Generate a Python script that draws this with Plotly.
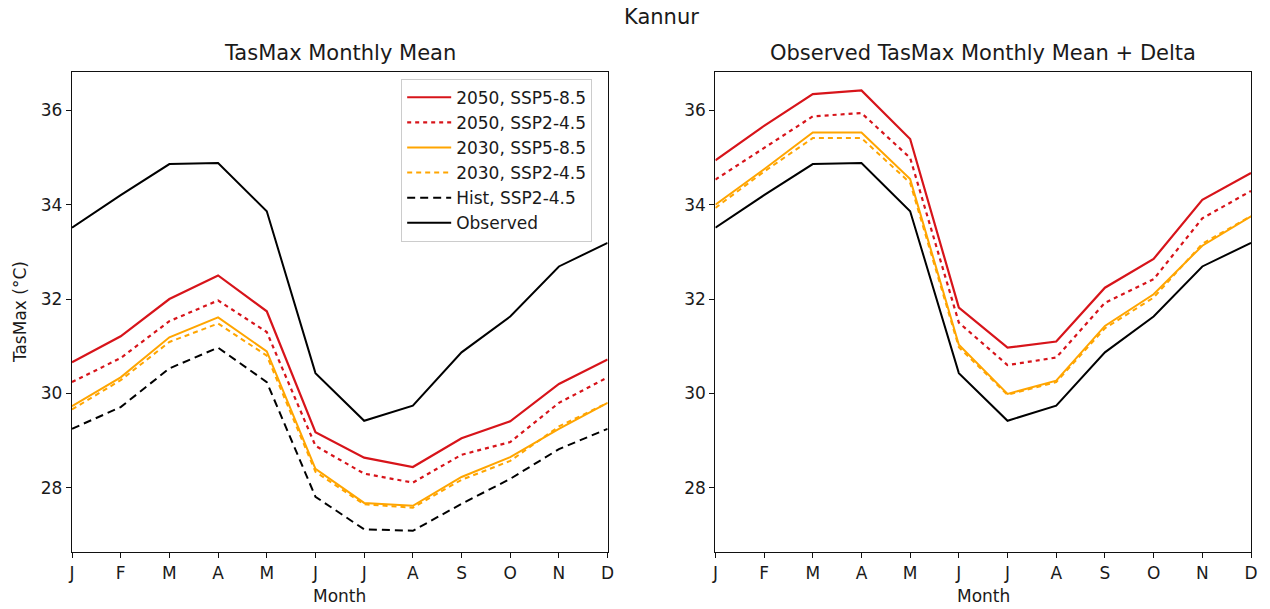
import plotly.graph_objects as go
from plotly.subplots import make_subplots

# Month index and labels
month_idx = list(range(12))
month_labels = ["J", "F", "M", "A", "M", "J", "J", "A", "S", "O", "N", "D"]

# Model monthly mean TasMax (°C)
ssp585_2050 = [30.66, 31.21, 32.00, 32.50, 31.74, 29.18, 28.64, 28.44, 29.05, 29.41, 30.20, 30.72]
ssp245_2050 = [30.24, 30.75, 31.53, 31.97, 31.30, 28.89, 28.30, 28.11, 28.70, 28.97, 29.80, 30.34]
ssp585_2030 = [29.73, 30.34, 31.19, 31.61, 30.89, 28.40, 27.68, 27.62, 28.23, 28.65, 29.25, 29.80]
ssp245_2030 = [29.66, 30.28, 31.09, 31.48, 30.80, 28.34, 27.65, 27.58, 28.17, 28.57, 29.30, 29.80]
hist_245 = [29.25, 29.71, 30.53, 30.97, 30.24, 27.81, 27.12, 27.09, 27.66, 28.19, 28.82, 29.25]
observed = [33.51, 34.20, 34.86, 34.88, 33.86, 30.43, 29.42, 29.74, 30.87, 31.63, 32.69, 33.19]

# Observed + delta TasMax (°C)
obs_d_585_2050 = [34.94, 35.67, 36.34, 36.42, 35.39, 31.82, 30.97, 31.10, 32.24, 32.85, 34.10, 34.67]
obs_d_245_2050 = [34.53, 35.20, 35.87, 35.94, 34.99, 31.50, 30.60, 30.76, 31.92, 32.42, 33.71, 34.29]
obs_d_585_2030 = [34.00, 34.75, 35.53, 35.53, 34.54, 31.03, 29.99, 30.27, 31.43, 32.10, 33.13, 33.75]
obs_d_245_2030 = [33.93, 34.70, 35.41, 35.41, 34.46, 30.98, 29.97, 30.24, 31.38, 32.03, 33.17, 33.76]

series_names = ["2050, SSP5-8.5", "2050, SSP2-4.5", "2030, SSP5-8.5",
                "2030, SSP2-4.5", "Hist, SSP2-4.5", "Observed"]

RED = "#d7141a"
ORANGE = "#ffa500"
BLACK = "#000000"
styles = [
    dict(color=RED, width=2.2, dash="solid"),
    dict(color=RED, width=2.2, dash="4px,4px"),
    dict(color=ORANGE, width=2.0, dash="solid"),
    dict(color=ORANGE, width=2.0, dash="5px,4px"),
    dict(color=BLACK, width=2.0, dash="8px,5px"),
    dict(color=BLACK, width=2.0, dash="solid"),
]

left_series = [ssp585_2050, ssp245_2050, ssp585_2030, ssp245_2030, hist_245, observed]
right_series = [obs_d_585_2050, obs_d_245_2050, obs_d_585_2030, obs_d_245_2030, observed]
right_styles = [styles[0], styles[1], styles[2], styles[3], styles[5]]

FONT = "DejaVu Sans"
TXT = "#1a1a1a"

fig = make_subplots(rows=1, cols=2, horizontal_spacing=0.0914)

for name, ys, st in zip(series_names, left_series, styles):
    fig.add_trace(go.Scatter(x=month_idx, y=ys, mode="lines", name=name,
                             line=st, showlegend=True), row=1, col=1)

for ys, st in zip(right_series, right_styles):
    fig.add_trace(go.Scatter(x=month_idx, y=ys, mode="lines",
                             line=st, showlegend=False), row=1, col=2)

y_range = [26.64, 36.81]
axis_common = dict(showline=True, linecolor="#111", linewidth=1.3, mirror=True,
                   showgrid=False, zeroline=False, ticks="outside", ticklen=5,
                   tickwidth=1.2, tickcolor="#111",
                   tickfont=dict(family=FONT, size=17, color=TXT))

for c in (1, 2):
    fig.update_xaxes(range=[0, 11], tickvals=month_idx, ticktext=month_labels,
                     **axis_common, row=1, col=c)
    fig.update_yaxes(range=y_range, tickvals=[28, 30, 32, 34, 36],
                     **axis_common, row=1, col=c)

fig.update_xaxes(domain=[0, 0.4543], row=1, col=1)
fig.update_xaxes(domain=[0.5457, 1.0], row=1, col=2)

annotations = [
    dict(text="Kannur", x=0.5, y=1.114, xref="paper", yref="paper",
         xanchor="center", yanchor="middle", showarrow=False,
         font=dict(family=FONT, size=21, color=TXT)),
    dict(text="TasMax Monthly Mean", x=0.4543 / 2, y=1.04, xref="paper", yref="paper",
         xanchor="center", yanchor="middle", showarrow=False,
         font=dict(family=FONT, size=21, color=TXT)),
    dict(text="Observed TasMax Monthly Mean + Delta", x=(0.5457 + 1) / 2, y=1.04,
         xref="paper", yref="paper", xanchor="center", yanchor="middle",
         showarrow=False, font=dict(family=FONT, size=21, color=TXT)),
    dict(text="Month", x=0.4543 / 2, y=-0.0915, xref="paper", yref="paper",
         xanchor="center", yanchor="middle", showarrow=False,
         font=dict(family=FONT, size=17, color=TXT)),
    dict(text="Month", x=(0.5457 + 1) / 2, y=-0.0915, xref="paper", yref="paper",
         xanchor="center", yanchor="middle", showarrow=False,
         font=dict(family=FONT, size=17, color=TXT)),
    dict(text="TasMax (°C)", x=-0.044, y=0.5, xref="paper", yref="paper",
         xanchor="center", yanchor="middle", textangle=-90, showarrow=False,
         font=dict(family=FONT, size=17, color=TXT)),
]

fig.update_layout(
    width=1270, height=609,
    margin=dict(l=72, r=16, t=72, b=57),
    paper_bgcolor="white", plot_bgcolor="white",
    font=dict(family=FONT, size=17, color=TXT),
    annotations=annotations,
    legend=dict(x=0.2792, y=0.986, xanchor="left", yanchor="top",
                bgcolor="rgba(255,255,255,0.85)", bordercolor="#cccccc",
                borderwidth=1, font=dict(family=FONT, size=17, color=TXT),
                itemwidth=44, tracegroupgap=0),
)

fig.write_html("out.html")
